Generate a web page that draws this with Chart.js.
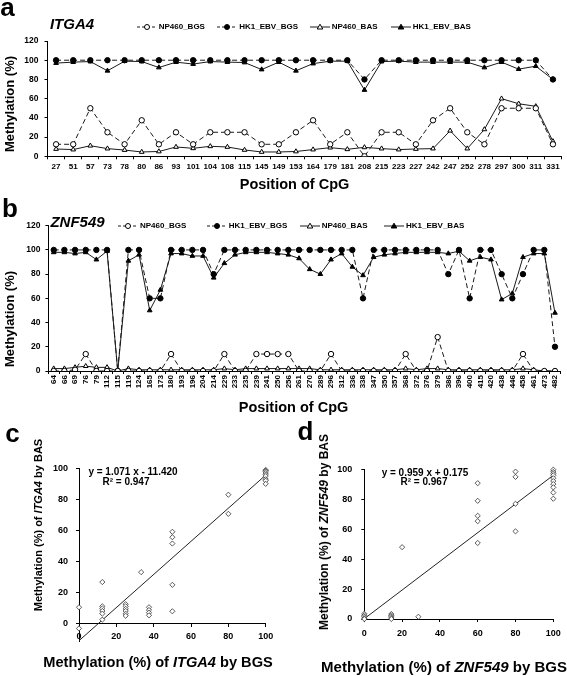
<!DOCTYPE html>
<html><head><meta charset="utf-8">
<script src="https://cdn.jsdelivr.net/npm/chart.js@4.4.1/dist/chart.umd.min.js"></script>
<style>
body{margin:0;background:#fff;width:567px;height:676px;position:relative;overflow:hidden;font-family:"Liberation Sans",Arial,sans-serif;color:#000}
canvas{position:absolute}
.t{position:absolute;line-height:1;white-space:nowrap;font-weight:bold;transform:translate(-50%,-50%)}
.r{transform:translate(-50%,-50%) rotate(-90deg)}
.lg{position:absolute;font-weight:bold;font-size:8px;line-height:1;white-space:nowrap;display:flex;align-items:center;transform:translateY(-50%)}
.lg svg{margin-right:2px}
</style></head><body>
<canvas id="ca" width="567" height="178" style="left:0;top:0"></canvas>
<canvas id="cb" width="567" height="215" style="left:0;top:190px"></canvas>
<canvas id="cc" width="283" height="200" style="left:0;top:455px"></canvas>
<canvas id="cd" width="284" height="200" style="left:283px;top:455px"></canvas>

<div class="t" style="left:7.5px;top:6.5px;font-size:26px">a</div>
<div class="t" style="left:72px;top:22.8px;font-size:15px;font-style:italic">ITGA4</div>
<div class="t r" style="left:9px;top:104px;font-size:13px">Methylation (%)</div>
<div class="t" style="left:294.5px;top:183.5px;font-size:14.5px">Position of CpG</div>

<div class="t" style="left:10px;top:208px;font-size:26px">b</div>
<div class="t" style="left:77.5px;top:221px;font-size:15px;font-style:italic">ZNF549</div>
<div class="t r" style="left:9px;top:319px;font-size:13px">Methylation (%)</div>
<div class="t" style="left:293.5px;top:406.7px;font-size:14.5px">Position of CpG</div>

<div class="t" style="left:12.5px;top:433px;font-size:26px">c</div>
<div class="t r" style="left:37.5px;top:525px;font-size:11px">Methylation (%) of <i>ITGA4</i> by BAS</div>
<div class="t" style="left:158px;top:662px;font-size:14.6px">Methylation (%) of <i>ITGA4</i> by BGS</div>
<div class="t" style="left:133px;top:472px;font-size:10px">y = 1.071 x - 11.420</div>
<div class="t" style="left:126px;top:481.5px;font-size:10px">R² = 0.947</div>

<div class="t" style="left:305.5px;top:431px;font-size:26px">d</div>
<div class="t r" style="left:323.5px;top:531.5px;font-size:12px">Methylation (%) of <i>ZNF549</i> by BAS</div>
<div class="t" style="left:444px;top:666px;font-size:15px">Methylation (%) of <i>ZNF549</i> by BGS</div>
<div class="t" style="left:425px;top:472.5px;font-size:10px">y = 0.959 x + 0.175</div>
<div class="t" style="left:424px;top:482px;font-size:10px">R² = 0.967</div>

<script>
// ---- panel a: ITGA4 ----
const labelsA = ['27','51','57','73','78','80','86','93','101','104','108','115','145','149','153',
  '164','179','181','208','215','223','227','242','247','252','278','297','300','311','331'];
const np460BgsA = [12.5,12.5,50,25,12.5,37.5,12.5,25,12.5,25,25,25,12.5,12.5,25,
  37.5,12.5,25,0,25,25,12.5,37.5,50,25,12.5,50,50,50,12.5];
const hk1BgsA = [100,100,100,100,100,100,100,100,100,100,100,100,100,100,100,
  100,100,100,80,100,100,100,100,100,100,100,100,100,100,80];
const np460BasA = [7.6,7,11,8,6.5,4.5,5,9.7,8.3,10.4,9.7,6.6,4.5,4.5,5,
  7,9,7.3,9.3,8,7,7.6,8,26.6,8,28,60,54.7,52,15.6];
const hk1BasA = [97,98,98.6,89,99,98.6,92.4,98,96,98.6,98,97.6,90.3,98,89,
  96.5,99,99,69,98.6,99,98,98,98,98,92.4,98,90.7,93.8,80];

// ---- panel b: ZNF549 ----
const labelsB = ['64','66','69','76','79','112','115','119','124','165','173','180','193','196','204','214',
  '229','233','235','239','241','250','256','261','270','289','296','312','336','338','347','350',
  '357','368','372','376','379','386','396','400','415','420','438','446','458','461','473','482'];
const np460BgsB = [0,0,1,14,0,0,0,0,0,0,0,14,0,0,0,0,
  14,0,0,14,14,14,14,0,0,0,14,0,0,0,0,0,
  0,14,0,0,28,0,0,0,0,0,0,0,14,0,0,0];
const hk1BgsB = [100,100,100,100,100,100,0,100,100,60,60,100,100,100,100,80,
  100,100,100,100,100,100,100,100,100,100,100,100,100,60,100,100,
  100,100,100,100,100,80,100,60,100,100,80,60,80,100,100,20];
const np460BasB = [2,2,3,4,3,3,0,2,1,1,1,1,1,1,1,1,
  2,1,2,2,2,2,2,2,2,1,1,1,1,1,1,1,
  1,2,1,2,2,1,1,1,1,1,1,1,2,1,0,0];
const hk1BasB = [98,98,97,98,92,99,0,91,96,50,67,97,97,95,95,77,
  89,96,98,98,98,97,96,93,84,80,92,97,86,79,94,96,
  97,98,98,98,98,97,99,91,94,92,59,64,94,97,97,48];

const seriesNames = ['NP460_BGS','HK1_EBV_BGS','NP460_BAS','HK1_EBV_BAS'];

// ---- panel c / d scatter (BGS vs BAS) ----
const bgsC = [0,0,12.5,12.5,12.5,12.5,12.5,12.5,25,25,25,25,25,25,33.3,37.5,37.5,37.5,37.5,
  50,50,50,50,50,80,80,100,100,100,100,100,100,100,100,100];
const basC = [10.2,-3.5,26.5,10.8,9.4,7.8,6.1,2.2,12.2,10.8,9.2,7.8,6,4.7,32.9,10.2,8.4,6.7,5,
  59,55.5,51.4,24.7,7.6,83,70.6,99,98.5,98,97,96,95,93,92,90];
const slopeC = 1.071, interceptC = -11.420;

const bgsD = [0,0,0,0,0,14.3,14.3,14.3,14.3,14.3,20,28.6,60,60,60,60,60,80,80,80,80,
  100,100,100,100,100,100,100,100,100,100];
const basD = [3.5,2.5,1.5,0.5,0,3.3,2.4,1.5,0.7,0,48,1.5,90.8,79,69,65.4,50.8,98.5,95,77,58.6,
  99.8,98.3,97.2,96,94.1,92.2,90.2,88,84.5,80.4];
const slopeD = 0.959, interceptD = 0.175;

Chart.defaults.font.family = '"Liberation Sans", Arial, sans-serif';
Chart.defaults.font.weight = 'bold';
Chart.defaults.color = '#000';

const styles = [
  {dash: [5, 3], shape: 'circle', fill: '#fff'},
  {dash: [5, 3], shape: 'circle', fill: '#000'},
  {dash: [], shape: 'triangle', fill: '#fff'},
  {dash: [], shape: 'triangle', fill: '#000'}
];

function lineSets(series) {
  return series.map((vals, i) => ({
    label: seriesNames[i],
    data: vals,
    borderColor: '#1a1a1a',
    borderWidth: 1,
    borderDash: styles[i].dash,
    pointStyle: styles[i].shape,
    pointRadius: 2.7,
    pointBackgroundColor: styles[i].fill,
    pointBorderColor: '#000',
    pointBorderWidth: 1,
    tension: 0
  }));
}

// html legend with small svg symbols
function legend(lefts, y) {
  seriesNames.forEach((name, i) => {
    const s = styles[i];
    const mark = s.shape === 'circle'
      ? `<circle cx="10" cy="4" r="2.5" fill="${s.fill}" stroke="#000" stroke-width="1"/>`
      : `<polygon points="10,1.2 12.8,6 7.2,6" fill="${s.fill}" stroke="#000" stroke-width="1"/>`;
    const d = document.createElement('div');
    d.className = 'lg';
    d.style.left = lefts[i] + 'px';
    d.style.top = y + 'px';
    d.innerHTML = `<svg width="20" height="8"><line x1="0" y1="4" x2="20" y2="4" stroke="#1a1a1a" stroke-width="1" ${s.dash.length ? 'stroke-dasharray="3,2"' : ''}/>${mark}</svg><span>${name}</span>`;
    document.body.appendChild(d);
  });
}
legend([136.7, 217.3, 309.7, 390.7], 26.7);
legend([118, 206.7, 299.7, 384], 225.7);

function lineChart(id, labels, series, o) {
  new Chart(document.getElementById(id), {
    type: 'line',
    data: {labels: labels, datasets: lineSets(series)},
    options: {
      responsive: false, animation: false, devicePixelRatio: 1,
      layout: {padding: {top: o.top, right: o.right, bottom: 0, left: 0}},
      plugins: {legend: {display: false}, tooltip: {enabled: false}},
      scales: {
        x: {
          offset: true,
          grid: {offset: true, drawOnChartArea: false, tickLength: 3, color: '#000'},
          border: {color: '#000', width: 1},
          ticks: {autoSkip: false, minRotation: o.rot, maxRotation: o.rot, padding: o.xpad,
            font: {size: 8, weight: 'bold'}},
          afterFit: s => { s.height = o.xh; }
        },
        y: {
          min: 0, max: 120,
          grid: {drawOnChartArea: false, tickLength: 3, color: '#000'},
          border: {color: '#000', width: 1},
          ticks: {stepSize: 20, padding: o.ypad, font: {size: 8.5, weight: 'bold'}},
          afterFit: s => { s.width = o.yw; }
        }
      }
    }
  });
}

lineChart('ca', labelsA, [np460BgsA, hk1BgsA, np460BasA, hk1BasA],
  {top: 41, right: 5.5, xh: 21.7, yw: 47.5, rot: 0, xpad: 3, ypad: 6});
lineChart('cb', labelsB, [np460BgsB, hk1BgsB, np460BasB, hk1BasB],
  {top: 35.7, right: 6.7, xh: 34, yw: 48.4, rot: 90, xpad: 1, ypad: 5});

function scatterChart(id, xs, ys, slope, intercept, o) {
  const x0 = Math.min(...xs), x1 = Math.max(...xs);
  new Chart(document.getElementById(id), {
    type: 'scatter',
    data: {datasets: [
      {
        data: xs.map((x, i) => ({x: x, y: ys[i]})),
        pointStyle: 'rectRot', pointRadius: 2.6,
        pointBackgroundColor: '#fff', pointBorderColor: '#333', pointBorderWidth: 0.8,
        clip: false
      },
      {
        data: [{x: x0, y: slope * x0 + intercept}, {x: x1, y: slope * x1 + intercept}],
        showLine: true, borderColor: '#222', borderWidth: 1, pointRadius: 0, clip: false
      }
    ]},
    options: {
      responsive: false, animation: false, devicePixelRatio: 1,
      layout: {padding: o.pad},
      plugins: {legend: {display: false}, tooltip: {enabled: false}},
      scales: {
        x: {
          type: 'linear', min: 0, max: 100,
          position: o.xpos,
          grid: {drawOnChartArea: false, tickLength: 3, color: '#000'},
          border: {color: '#000', width: 1},
          ticks: {stepSize: 20, padding: o.xpad, font: {size: 9, weight: 'bold'}},
          afterFit: s => { if (o.xh) s.height = o.xh; }
        },
        y: {
          type: 'linear', min: o.ymin, max: 100,
          grid: {drawOnChartArea: false, tickLength: 3, color: '#000'},
          border: {color: '#000', width: 1},
          ticks: {stepSize: 20, padding: o.ypad, font: {size: 9, weight: 'bold'}},
          afterBuildTicks: s => { s.ticks = s.ticks.filter(t => t.value >= 0); },
          afterFit: s => { s.width = o.yw; }
        }
      }
    }
  });
}

scatterChart('cc', bgsC, basC, slopeC, interceptC,
  {pad: {top: 11, right: 17.3, bottom: 6.1, left: 0}, xpos: {y: 0}, ymin: -12, yw: 79, xpad: 5, ypad: 8});
scatterChart('cd', bgsD, basD, slopeD, interceptD,
  {pad: {top: 11, right: 13.7, bottom: 0, left: 0}, xpos: 'bottom', xh: 36, ymin: 0, yw: 81.3, xpad: 6, ypad: 9});
</script>
</body></html>
